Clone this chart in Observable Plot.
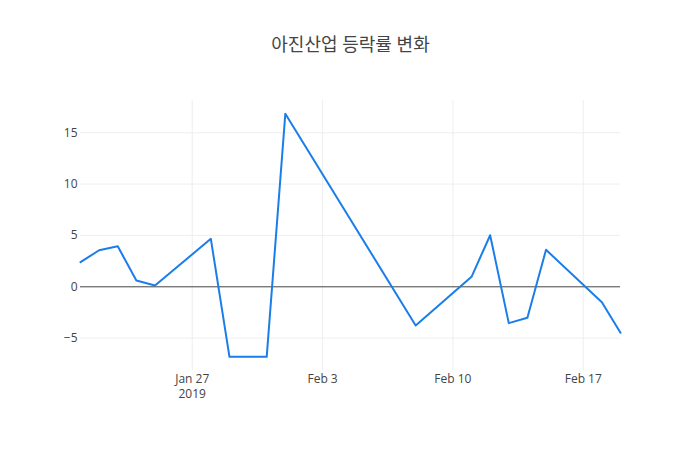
<!DOCTYPE html>
<html>
<head>
<meta charset="utf-8">
<script src="https://cdn.jsdelivr.net/npm/d3@7"></script>
<script src="https://cdn.jsdelivr.net/npm/@observablehq/plot@0.6"></script>
<style>
  html, body { margin: 0; padding: 0; background: #fff; }
  #chart { width: 700px; height: 450px; }
</style>
</head>
<body>
<div id="chart"></div>
<script>
const title = "아진산업 등락률 변화";
const dates = ["2019-01-21","2019-01-22","2019-01-23","2019-01-24","2019-01-25",
  "2019-01-28","2019-01-29","2019-01-31","2019-02-01","2019-02-08",
  "2019-02-11","2019-02-12","2019-02-13","2019-02-14","2019-02-15",
  "2019-02-18","2019-02-19"];
const changes = [2.4, 3.56, 3.95, 0.61, 0.13,
  4.67, -6.82, -6.82, 16.85, -3.77,
  0.97, 5.02, -3.54, -3.02, 3.6,
  -1.5, -4.48];
const xTickDates = ["2019-01-27","2019-02-03","2019-02-10","2019-02-17"];
const xTickLabels = ["Jan 27\n2019","Feb 3","Feb 10","Feb 17"];
const yTicks = [-5, 0, 5, 10, 15];

const data = dates.map((d, i) => ({date: new Date(d + "T00:00:00Z"), value: changes[i]}));
const xTicks = xTickDates.map(d => new Date(d + "T00:00:00Z"));
const labelOf = new Map(xTicks.map((d, i) => [+d, xTickLabels[i]]));

const font = "'Open Sans', 'Noto Sans CJK KR', sans-serif";

const chart = Plot.plot({
  width: 700,
  height: 450,
  marginLeft: 80,
  marginRight: 80,
  marginTop: 100,
  marginBottom: 80,
  style: {fontFamily: font, fontSize: "12px", color: "#444", background: "#fff", overflow: "visible"},
  x: {type: "utc", domain: [new Date("2019-01-21T00:00:00Z"), new Date("2019-02-19T00:00:00Z")]},
  y: {domain: [-8.15, 18.14]},
  marks: [
    Plot.gridX(xTicks, {stroke: "#eee", strokeOpacity: 1}),
    Plot.gridY(yTicks.filter(v => v !== 0), {stroke: "#eee", strokeOpacity: 1}),
    Plot.ruleY([0], {stroke: "#444", strokeWidth: 1}),
    Plot.line(data, {x: "date", y: "value", stroke: "#1b7ee8", strokeWidth: 2, curve: "linear"}),
    Plot.axisX(xTicks, {tickSize: 0, tickPadding: 1, label: null, fontSize: 12, lineHeight: 1.3,
      tickFormat: d => labelOf.get(+d)}),
    Plot.axisY(yTicks, {tickSize: 0, tickPadding: 3, label: null, fontSize: 12}),
    Plot.text([title], {frameAnchor: "top", dy: -62, fontSize: 18, fill: "#444", fontFamily: font})
  ]
});
document.getElementById("chart").appendChild(chart);
</script>
</body>
</html>
